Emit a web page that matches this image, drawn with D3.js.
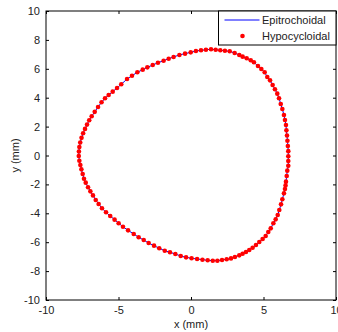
<!DOCTYPE html>
<html>
<head>
<meta charset="utf-8">
<script src="https://cdn.jsdelivr.net/npm/d3@7"></script>
<style>
  html, body { margin: 0; padding: 0; background: #fff; }
  svg { display: block; font-family: "Liberation Sans", Arial, sans-serif; }
</style>
</head>
<body>
<div id="chart"></div>
<script>
// points, counter-clockwise from the right side
const profileX = [
  6.71, 6.71, 6.68, 6.65, 6.62, 6.58, 6.55, 6.48, 6.41, 6.30, 6.19, 6.07, 5.95, 5.79, 5.63, 5.45,
  5.26, 5.08, 4.85, 4.62, 4.34, 4.12, 3.84, 3.56, 3.33, 3.01, 2.67, 2.34, 2.02, 1.70, 1.38, 1.03,
  0.69, 0.34, -0.02, -0.41, -0.80, -1.20, -1.54, -1.89, -2.28, -2.64, -3.01, -3.33, -3.70, -4.07,
  -4.41, -4.81, -5.10, -5.40, -5.68, -5.93, -6.17, -6.41, -6.64, -6.85, -7.02, -7.17, -7.31, -7.44,
  -7.55, -7.64, -7.70, -7.73,
  -7.74, -7.70, -7.63, -7.56, -7.47, -7.38, -7.26, -7.10, -6.94, -6.76, -6.57, -6.37, -6.14, -5.86,
  -5.57, -5.27, -4.99, -4.69, -4.34, -3.95, -3.61, -3.26, -2.92, -2.55, -2.19, -1.81, -1.45, -1.08,
  -0.71, -0.34,
  0.04, 0.42, 0.79, 1.15, 1.50, 1.82, 2.14, 2.46, 2.76, 3.03, 3.33, 3.56, 3.79, 4.02, 4.25, 4.48,
  4.71, 4.94, 5.15, 5.33, 5.50, 5.68, 5.84, 5.98, 6.09, 6.21, 6.30, 6.41, 6.48, 6.52, 6.55, 6.60,
  6.64, 6.71, 6.71
];
const profileY = [
  -0.05, 0.30, 0.66, 1.02, 1.38, 1.74, 2.11, 2.46, 2.80, 3.22, 3.56, 3.96, 4.28, 4.58, 4.88, 5.20,
  5.43, 5.76, 5.99, 6.19, 6.45, 6.59, 6.73, 6.84, 6.96, 7.09, 7.21, 7.25, 7.28, 7.32, 7.35, 7.32,
  7.28, 7.23, 7.14, 7.05, 6.96, 6.82, 6.70, 6.56, 6.42, 6.26, 6.10, 5.94, 5.76, 5.52,
  5.29, 4.93, 4.67, 4.42, 4.19, 3.96, 3.68, 3.36, 3.02, 2.72, 2.44, 2.14, 1.84, 1.54,
  1.22, 0.90, 0.58, 0.28,
  -0.03, -0.36, -0.66, -0.96, -1.28, -1.61, -1.88, -2.20, -2.48, -2.76, -3.08, -3.36, -3.65, -3.93,
  -4.19, -4.44, -4.69, -4.93, -5.18, -5.43, -5.66, -5.85, -6.06, -6.24, -6.42, -6.59, -6.70, -6.82,
  -6.95, -7.05,
  -7.11, -7.16, -7.21, -7.25, -7.28, -7.28, -7.23, -7.18, -7.12, -7.02, -6.91, -6.80, -6.68, -6.54, -6.38, -6.19,
  -5.99, -5.78, -5.57, -5.29, -5.04, -4.69, -4.42, -4.12, -3.77, -3.38, -3.03, -2.62, -2.32, -2.07, -1.81, -1.42,
  -1.05, -0.71, -0.38
];
const xTicks = [-10, -5, 0, 5, 10];
const yTicks = [-10, -8, -6, -4, -2, 0, 2, 4, 6, 8, 10];
const seriesNames = ['Epitrochoidal', 'Hypocycloidal'];

const W = 338, H = 332;
const margin = {top: 11, right: 2, bottom: 32, left: 46};

const svg = d3.select('#chart').append('svg')
  .attr('width', W)
  .attr('height', H);

const x = d3.scaleLinear().domain([-10, 10]).range([margin.left, W - margin.right]);
const y = d3.scaleLinear().domain([-10, 10]).range([H - margin.bottom, margin.top]);

const pts = profileX.map((v, i) => [v, profileY[i]]);
const plain = d => String(d); // hyphen minus, as in the original

// axes, ticks pointing inward like matlab
function styleAxis(g) {
  g.select('.domain').remove();
  g.selectAll('.tick line').attr('stroke', '#000');
  g.selectAll('.tick text').attr('fill', '#222').style('font-size', '11px');
}

svg.append('g')
  .attr('transform', 'translate(0,' + y(-10) + ')')
  .call(d3.axisBottom(x).tickValues(xTicks).tickSizeInner(-3).tickSizeOuter(0).tickPadding(6).tickFormat(plain))
  .call(styleAxis);
svg.append('g')
  .attr('transform', 'translate(0,' + y(10) + ')')
  .call(d3.axisTop(x).tickValues(xTicks).tickSizeInner(-3).tickSizeOuter(0).tickFormat(''))
  .call(styleAxis);
svg.append('g')
  .attr('transform', 'translate(' + x(-10) + ',0)')
  .call(d3.axisLeft(y).tickValues(yTicks).tickSizeInner(-3).tickSizeOuter(0).tickPadding(6).tickFormat(plain))
  .call(styleAxis);
svg.append('g')
  .attr('transform', 'translate(' + x(10) + ',0)')
  .call(d3.axisRight(y).tickValues(yTicks).tickSizeInner(-3).tickSizeOuter(0).tickFormat(''))
  .call(styleAxis);

// the two curves
svg.append('path')
  .datum(pts)
  .attr('fill', 'none')
  .attr('stroke', '#0000ff')
  .attr('stroke-width', 1)
  .attr('d', d3.line().x(d => x(d[0])).y(d => y(d[1])).curve(d3.curveLinearClosed));

svg.append('g').selectAll('circle')
  .data(pts)
  .join('circle')
  .attr('cx', d => x(d[0]))
  .attr('cy', d => y(d[1]))
  .attr('r', 2.3)
  .attr('fill', '#ff0000');

// box
svg.append('rect')
  .attr('x', x(-10)).attr('y', y(10))
  .attr('width', x(10) - x(-10)).attr('height', y(-10) - y(10))
  .attr('fill', 'none').attr('stroke', '#000').attr('stroke-width', 1);

// axis titles
svg.append('text')
  .attr('x', x(0)).attr('y', 328)
  .attr('text-anchor', 'middle')
  .style('font-size', '11px').attr('fill', '#222')
  .text('x (mm)');
svg.append('text')
  .attr('transform', 'translate(15,' + y(0) + ') rotate(-90)')
  .attr('text-anchor', 'middle')
  .attr('dy', '0.35em')
  .style('font-size', '11px').attr('fill', '#222')
  .text('y (mm)');

// legend
const lg = svg.append('g').attr('transform', 'translate(218.5,' + y(10) + ')');
lg.append('rect')
  .attr('width', x(10) - 218.5).attr('height', 34)
  .attr('fill', '#fff').attr('stroke', '#000').attr('stroke-width', 1);
lg.append('line')
  .attr('x1', 6).attr('x2', 41).attr('y1', 9).attr('y2', 9)
  .attr('stroke', '#0000ff').attr('stroke-width', 1);
lg.append('circle')
  .attr('cx', 24).attr('cy', 25).attr('r', 2.3).attr('fill', '#ff0000');
lg.selectAll('text.lab')
  .data(seriesNames)
  .join('text')
  .attr('class', 'lab')
  .attr('x', 43.5)
  .attr('y', (d, i) => 9 + i * 16)
  .attr('dy', '0.35em')
  .style('font-size', '11px').attr('fill', '#222')
  .text(d => d);
</script>
</body>
</html>
